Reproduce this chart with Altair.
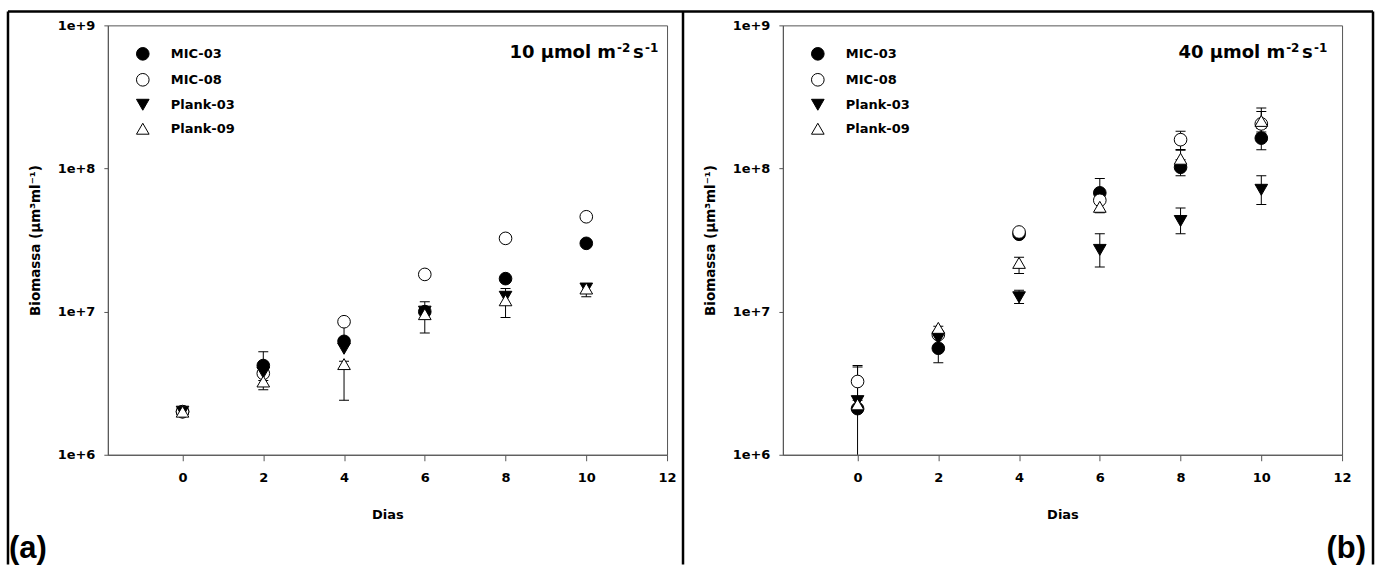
import altair as alt
import pandas as pd

days = [0, 2, 4, 6, 8, 10]
series = ["MIC-03", "MIC-08", "Plank-03", "Plank-09"]
shapes = ["circle", "circle", "triangle-down", "triangle-up"]
fills = ["black", "white", "black", "white"]
strokes = ["black", "black", "black", "black"]
x_ticks = [0, 2, 4, 6, 8, 10, 12]
y_ticks = [1e6, 1e7, 1e8, 1e9]

# (a) 10 umol
a_mic03 = [2.0e6, 4.2e6, 6.2e6, 1.0e7, 1.7e7, 3.0e7]
a_mic08 = [2.0e6, 3.7e6, 8.5e6, 1.82e7, 3.25e7, 4.6e7]
a_plank03 = [2.0e6, 3.75e6, 5.5e6, 1.0e7, 1.27e7, 1.45e7]
a_plank09 = [2.0e6, 3.25e6, 4.3e6, 9.6e6, 1.2e7, 1.45e7]
a_mic03_lo = [None, 3.3e6, None, None, None, None]
a_mic03_hi = [None, 5.25e6, None, None, None, None]
a_mic08_lo = [None, None, 6.6e6, None, None, None]
a_mic08_hi = [None, None, 8.8e6, None, None, None]
a_plank03_lo = [None, None, None, 8.8e6, None, None]
a_plank03_hi = [None, None, None, 1.17e7, None, None]
a_plank09_lo = [None, 2.85e6, 2.4e6, 7.1e6, 9.1e6, 1.27e7]
a_plank09_hi = [None, 3.6e6, 4.5e6, 1.05e7, 1.45e7, 1.57e7]

# (b) 40 umol
b_mic03 = [2.1e6, 5.55e6, 3.47e7, 6.76e7, 1.02e8, 1.63e8]
b_mic08 = [3.25e6, 6.9e6, 3.6e7, 6.0e7, 1.59e8, 2.05e8]
b_plank03 = [2.37e6, 6.5e6, 1.26e7, 2.7e7, 4.3e7, 7.1e7]
b_plank09 = [2.25e6, 7.7e6, 2.19e7, 5.4e7, 1.17e8, 2.15e8]
b_mic03_lo = [5e5, 4.4e6, None, 6.0e7, 8.9e7, 1.35e8]
b_mic03_hi = [4.1e6, 6.7e6, None, 8.5e7, 1.15e8, 1.9e8]
b_mic08_lo = [2.4e6, None, None, None, 1.36e8, 1.75e8]
b_mic08_hi = [4.2e6, None, None, None, 1.82e8, 2.5e8]
b_plank03_lo = [None, None, 1.14e7, 2.05e7, 3.5e7, 5.6e7]
b_plank03_hi = [None, None, 1.41e7, 3.5e7, 5.3e7, 8.9e7]
b_plank09_lo = [None, 7.3e6, 1.85e7, 4.9e7, 1.0e8, 1.8e8]
b_plank09_hi = [None, 7.9e6, 2.4e7, 6.0e7, 1.34e8, 2.65e8]

FONT = "DejaVu Sans"


def build(vals, los, his):
    rows = []
    for k, s in enumerate(series):
        for i, d in enumerate(days):
            rows.append({"day": d, "series": s, "ord": k, "value": vals[k][i],
                         "lo": los[k][i], "hi": his[k][i]})
    return pd.DataFrame(rows)


def one():
    return alt.Chart(pd.DataFrame({"a": [0]}))


xscale = alt.Scale(domain=[-1.85, 12], nice=False, zero=False)
yscale = alt.Scale(type="log", domain=[1e6, 1e9], nice=False)

xaxis = alt.Axis(values=x_ticks, title="Dias", grid=False, labelFont=FONT, labelFontWeight="bold",
                 labelFontSize=13, labelColor="black", tickSize=6, labelPadding=11,
                 domainColor="#555", tickColor="#555", labelFlush=False, labelOverlap=False,
                 titleFont=FONT, titleFontWeight="bold", titleFontSize=13, titleColor="black",
                 titleX=280, titleY=60, titleBaseline="middle", titleAlign="center")
yaxis = alt.Axis(values=y_ticks, format=".0e", title="Biomassa (µm³ml⁻¹)", grid=False,
                 labelFont=FONT, labelFontWeight="bold", labelFontSize=13, labelColor="black",
                 tickSize=4, labelPadding=9, domainColor="#555", tickColor="#555",
                 labelFlush=False, labelOverlap=False,
                 titleFont=FONT, titleFontWeight="bold", titleFontSize=13.5, titleColor="black",
                 titleX=-72, titleY=215, titleAngle=-90, titleBaseline="middle", titleAlign="center")


def legend():
    return alt.Legend(title=None, orient="none", legendX=28, legendY=21.5, padding=0,
                      labelFont=FONT, labelFontWeight="bold", labelFontSize=13, labelColor="black",
                      labelOffset=21, rowPadding=8, symbolSize=160, symbolStrokeColor="black",
                      symbolStrokeWidth=1)


def panel(df, main_text, main_end, sup_x, letter, letter_x, letter_align, extra):
    err = df.dropna(subset=["lo"])
    caps = pd.concat([err[["day", "lo"]].rename(columns={"lo": "cap"}),
                      err[["day", "hi"]].rename(columns={"hi": "cap"})])
    pts = alt.Chart(df).mark_point(filled=True, size=160, strokeWidth=1, opacity=1).encode(
        x=alt.X("day:Q", scale=xscale, axis=xaxis),
        y=alt.Y("value:Q", scale=yscale, axis=yaxis),
        shape=alt.Shape("series:N", scale=alt.Scale(domain=series, range=shapes), legend=legend()),
        fill=alt.Fill("series:N", scale=alt.Scale(domain=series, range=fills), legend=legend()),
        stroke=alt.Stroke("series:N", scale=alt.Scale(domain=series, range=strokes), legend=legend()),
        order=alt.Order("ord:Q"),
    )
    bars = alt.Chart(err).mark_rule(color="black", strokeWidth=1, clip=True).encode(
        x=alt.X("day:Q", scale=xscale, axis=xaxis),
        y=alt.Y("lo:Q", scale=yscale, axis=yaxis),
        y2="hi:Q",
    )
    capm = alt.Chart(caps).mark_tick(orient="horizontal", size=10, thickness=1, color="black",
                                     clip=True, opacity=1).encode(
        x=alt.X("day:Q", scale=xscale, axis=xaxis),
        y=alt.Y("cap:Q", scale=yscale, axis=yaxis),
    )
    txt = one().mark_text(font=FONT, fontWeight="bold", fontSize=18, align="right",
                          baseline="alphabetic", color="black").encode(
        x=alt.value(main_end), y=alt.value(32.7), text=alt.value(main_text))
    s1 = one().mark_text(font=FONT, fontWeight="bold", fontSize=12, align="left",
                         baseline="alphabetic", color="black").encode(
        x=alt.value(sup_x[0]), y=alt.value(27), text=alt.value("-2"))
    s2 = one().mark_text(font=FONT, fontWeight="bold", fontSize=18, align="left",
                         baseline="alphabetic", color="black").encode(
        x=alt.value(sup_x[1]), y=alt.value(32.7), text=alt.value("s"))
    s3 = one().mark_text(font=FONT, fontWeight="bold", fontSize=12, align="left",
                         baseline="alphabetic", color="black").encode(
        x=alt.value(sup_x[2]), y=alt.value(27), text=alt.value("-1"))
    let = one().mark_text(font="Liberation Sans", fontWeight="bold", fontSize=31, align=letter_align,
                          baseline="alphabetic", color="black").encode(
        x=alt.value(letter_x), y=alt.value(533), text=alt.value(letter))
    return alt.layer(*extra, bars, capm, pts, txt, s1, s2, s3, let).properties(width=560, height=430)


bg = one().mark_rect(fill="white", opacity=0).encode(
    x=alt.value(-107), x2=alt.value(1274), y=alt.value(-24), y2=alt.value(542))
frame_kw = dict(color="black", strokeWidth=2.5)
f_left = one().mark_rule(**frame_kw).encode(x=alt.value(-100), y=alt.value(-14), y2=alt.value(540))
f_mid = one().mark_rule(**frame_kw).encode(x=alt.value(576), y=alt.value(-14), y2=alt.value(540))
f_right = one().mark_rule(**frame_kw).encode(x=alt.value(1267), y=alt.value(-14), y2=alt.value(540))
f_top = one().mark_rule(**frame_kw).encode(x=alt.value(-100), x2=alt.value(1267), y=alt.value(-14))

df_a = build([a_mic03, a_mic08, a_plank03, a_plank09],
             [a_mic03_lo, a_mic08_lo, a_plank03_lo, a_plank09_lo],
             [a_mic03_hi, a_mic08_hi, a_plank03_hi, a_plank09_hi])
df_b = build([b_mic03, b_mic08, b_plank03, b_plank09],
             [b_mic03_lo, b_mic08_lo, b_plank03_lo, b_plank09_lo],
             [b_mic03_hi, b_mic08_hi, b_plank03_hi, b_plank09_hi])

left = panel(df_a, "10 µmol m", 509, [510, 526, 538], "(a)", -99, "left",
             [bg, f_left, f_mid, f_right, f_top])
right = panel(df_b, "40 µmol m", 503, [504, 520, 532], "(b)", 584, "right", [])

chart = alt.hconcat(left, right, spacing=116, bounds="flush").resolve_scale(
    shape="independent", fill="independent", stroke="independent",
    x="independent", y="independent"
).resolve_legend(shape="independent", fill="independent", stroke="independent").properties(
    padding=0, background="white"
).configure_view(stroke="#555", strokeWidth=1)

chart.save("out.html", embed_options={"renderer": "svg", "actions": False})
